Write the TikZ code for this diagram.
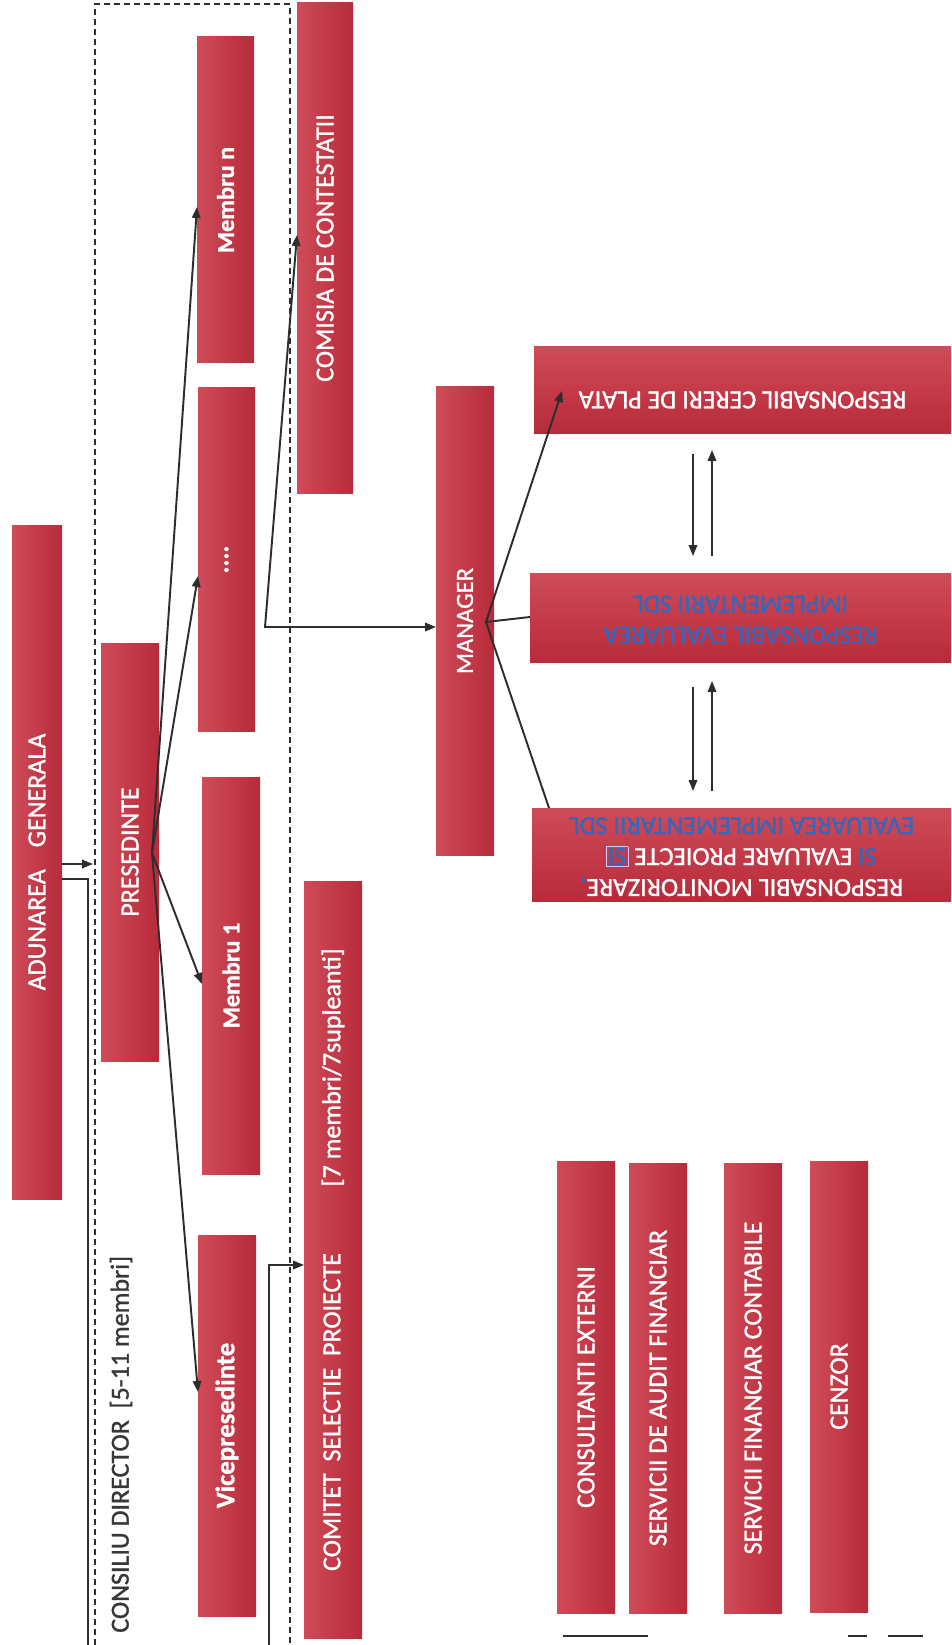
\documentclass[tikz,border=0pt]{standalone}
\usepackage{fontspec}
\setmainfont{Carlito}
\newfontfamily\medfont{Carlito}[RawFeature={embolden=1.2}]
\usepackage{graphicx}
\usetikzlibrary{arrows.meta}
\definecolor{boxL}{RGB}{206,76,88}
\definecolor{boxM}{RGB}{196,58,72}
\definecolor{boxR}{RGB}{182,44,58}
\definecolor{txtblue}{RGB}{52,104,190}
\definecolor{linegray}{RGB}{45,45,45}
\definecolor{labgray}{RGB}{55,55,55}
\newcommand\RB[7]{\node[#6, minimum width={(#4-#2)*0.02cm}, minimum height={(#5-#3)*0.02cm}] (#1) at ({(#2+#4)/2},{(#3+#5)/2}) {#7};}
\newcommand\fs[1]{\fontsize{#1}{17.6}\selectfont}
\begin{document}
\begin{tikzpicture}[x=0.02cm,y=-0.02cm,
  rbox/.style={rectangle, inner sep=0pt, outer sep=0pt, text=white, font=\medfont\fs{14.8}},
  vbox/.style={rbox, left color=boxL, right color=boxR, middle color=boxM},
  hbox/.style={rbox, top color=boxL, bottom color=boxR, middle color=boxM},
  conn/.style={draw=linegray, line width=1.1pt},
  arr/.style={conn, -{Triangle[length=0.22cm,width=0.17cm]}},
  dualarr/.style={conn, {Triangle[length=0.22cm,width=0.17cm]}-{Triangle[length=0.22cm,width=0.17cm]}},
  dashbox/.style={draw=linegray, line width=1pt, dash pattern=on 0.12cm off 0.08cm}]
\fill[white] (0,0) rectangle (951,1645);
\useasboundingbox (0,0) rectangle (951,1645);

% consiliu director frame
\draw[dashbox] (95,1645) -- (95,4) -- (290,4) -- (290,1645);
\node[rotate=90, anchor=west, inner sep=0pt, text=labgray, font=\medfont\fs{14.8}] (cdlab) at (121,1633) {CONSILIU DIRECTOR\ \ [5-11 membri]};

% boxes
\RB{adun}{12}{525}{62}{1199}{vbox}{\rotatebox{90}{ADUNAREA\hspace{12.5pt}GENERALA}}
\RB{pres}{101}{643}{159}{1061}{vbox}{\rotatebox{90}{PRESEDINTE}}
\RB{mn}{197}{37}{254}{363}{vbox}{\rotatebox{90}{\fs{13.8}\bfseries Membru n}}
\RB{dots}{198}{388}{255}{731}{vbox}{\rotatebox{90}{\bfseries ....}}
\RB{mone}{202}{777}{260}{1174}{vbox}{\rotatebox{90}{\fs{13.8}\bfseries Membru 1}}
\RB{vice}{198}{1235}{256}{1616}{vbox}{\rotatebox{90}{\fs{15.2}\bfseries Vicepresedinte}}
\RB{com}{297}{3}{353}{493}{vbox}{\rotatebox{90}{COMISIA DE CONTESTATII}}
\RB{csp}{304}{881}{362}{1638}{vbox}{\rotatebox{90}{COMITET\ \ SELECTIE\ \ PROIECTE\hspace{38pt}[7 membri/7supleanti]}}
\RB{mgr}{436}{387}{494}{855}{vbox}{\rotatebox{90}{\fs{14}MANAGER}}
\RB{cer}{534}{347}{951}{433}{hbox}{\rotatebox{180}{\raisebox{0.2cm}[\height][\depth]{RESPONSABIL CERERI DE PLATA}}}
\RB{eval}{530}{573}{951}{662}{hbox}{\rotatebox{180}{\color{txtblue}\begin{tabular}{@{}c@{}}RESPONSABIL EVALUAREA\\IMPLEMENTARII SDL\end{tabular}}}
\RB{mon}{532}{808}{951}{901}{hbox}{\rotatebox{180}{\setlength\fboxsep{0.6pt}\setlength\fboxrule{0.4pt}\begin{tabular}{@{}c@{}}RESPONSABIL MONITORIZARE{\color{txtblue},}\\{\color{txtblue}SI} EVALUARE PROIECTE {\color{white!80!blue}\fbox{\color{txtblue}SI}}\\{\color{txtblue}EVALUAREA IMPLEMENTARII SDL}\end{tabular}}}
\RB{consx}{557}{1161}{615}{1613}{vbox}{\rotatebox{90}{CONSULTANTI EXTERNI}}
\RB{audit}{629}{1163}{687}{1613}{vbox}{\rotatebox{90}{SERVICII DE AUDIT FINANCIAR}}
\RB{finc}{724}{1163}{782}{1613}{vbox}{\rotatebox{90}{SERVICII FINANCIAR CONTABILE}}
\RB{cenz}{810}{1161}{868}{1612}{vbox}{\rotatebox{90}{CENZOR}}

% connectors
\coordinate (a1) at (0,864);
\coordinate (a2) at (0,879);
\coordinate (a2b) at (88,1645);
\draw[arr, shorten >=0.16cm] (adun.east |- a1) -- (pres.west |- a1);
\draw[conn] (adun.east |- a2) -| (a2b);

\coordinate (pf) at (152,853);
\coordinate (t1) at (0,207);
\coordinate (t2) at (0,576);
\coordinate (t3) at (0,984);
\coordinate (t4) at (0,1392);
\draw[arr] (pf) -- (mn.west |- t1);
\draw[arr] (pf) -- (dots.west |- t2);
\draw[arr] (pf) -- (mone.west |- t3);
\draw[arr] (pf) -- (vice.west |- t4);

\coordinate (cj) at (265,627);
\coordinate (ct) at (0,235);
\draw[dualarr] (com.west |- ct) -- (cj) -- (mgr.west |- cj);

\coordinate (cs0) at (269,1645);
\coordinate (cs1) at (0,1265);
\draw[arr] (cs0) |- (csp.west |- cs1);

\coordinate (mf) at (486,622);
\coordinate (ce) at (562,391);
\coordinate (ev) at (0,617);
\coordinate (mo) at (549,0);
\draw[arr] (mf) -- (ce);
\draw[conn] (mf) -- (eval.west |- ev);
\draw[conn] (mf) -- (mon.north -| mo);

\coordinate (v1) at (693,0);
\coordinate (v2) at (712,0);
\draw[arr, shorten <=0.42cm, shorten >=0.34cm] (cer.south -| v1) -- (eval.north -| v1);
\draw[arr, shorten <=0.34cm, shorten >=0.34cm] (eval.north -| v2) -- (cer.south -| v2);
\draw[arr, shorten <=0.5cm, shorten >=0.34cm] (eval.south -| v1) -- (mon.north -| v1);
\draw[arr, shorten <=0.34cm, shorten >=0.38cm] (mon.north -| v2) -- (eval.south -| v2);

% stray marks at the bottom
\draw[line width=0.8pt, linegray] (563,1636) -- (648,1636);
\draw[line width=0.8pt, linegray] (848,1636) -- (867,1636);
\draw[line width=0.8pt, linegray] (888,1636) -- (923,1636);
\end{tikzpicture}
\end{document}
